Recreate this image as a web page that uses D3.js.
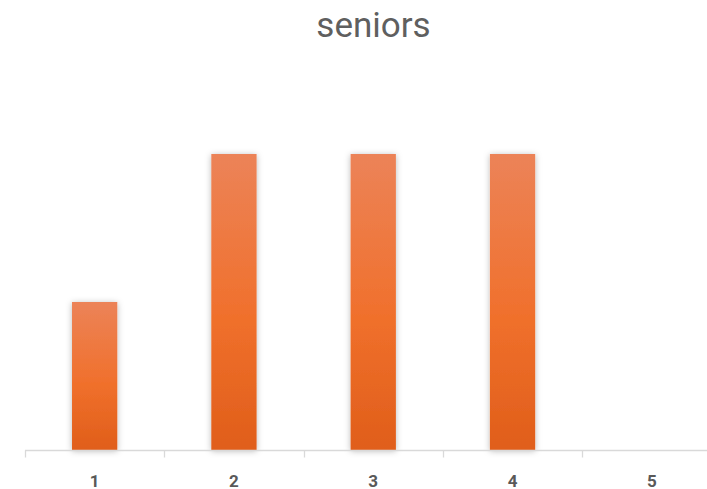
<!DOCTYPE html>
<html><head><meta charset="utf-8">
<script src="https://cdn.jsdelivr.net/npm/d3@7"></script>
<style>body{margin:0;background:#fff}svg{display:block}</style>
</head><body>
<svg id="c" width="707" height="489"></svg>
<script>
const categories = ["1","2","3","4","5"];
const values = [1, 2, 2, 2, 0];
const title = "seniors";

const svg = d3.select("#c");
const x = d3.scaleBand().domain(categories).range([25, 721.5]).paddingInner(0.675).paddingOuter(0.3375);
const y = d3.scaleLinear().domain([0, 2.5]).range([450, 80]);

const defs = svg.append("defs");
const g = defs.append("linearGradient").attr("id","gr").attr("x1",0).attr("y1",0).attr("x2",0).attr("y2",1);
g.append("stop").attr("offset","0%").attr("stop-color","#EC8358");
g.append("stop").attr("offset","55%").attr("stop-color","#F0702C");
g.append("stop").attr("offset","100%").attr("stop-color","#E05E1A");
const f = defs.append("filter").attr("id","sh").attr("x","-30%").attr("y","-10%").attr("width","160%").attr("height","120%");
f.append("feDropShadow").attr("dx",0).attr("dy",1).attr("stdDeviation",3).attr("flood-color","#000").attr("flood-opacity",0.28);

svg.append("text").attr("x",373.5).attr("y",37).attr("text-anchor","middle")
  .attr("font-family","Roboto, sans-serif").attr("font-weight",400).attr("font-size",35).attr("fill","#5f5f5f").text(title);

svg.append("g").selectAll("rect").data(values.map((v,i)=>({c:categories[i],v}))).enter()
  .filter(d=>d.v>0).append("rect")
  .attr("x",d=>x(d.c)).attr("width",x.bandwidth())
  .attr("y",d=>y(d.v)).attr("height",d=>y(0)-y(d.v))
  .attr("fill","url(#gr)").attr("filter","url(#sh)");

const ax = svg.append("g").attr("transform","translate(0,450.5)");
ax.append("line").attr("x1",25).attr("x2",707).attr("stroke","#d9d9d9").attr("stroke-width",1.3);
const edges = d3.range(categories.length+1).map(i=>25+i*(696.5/categories.length));
ax.selectAll("line.t").data(edges).enter().append("line").attr("class","t")
  .attr("x1",d=>Math.round(d)+0.5).attr("x2",d=>Math.round(d)+0.5).attr("y1",0).attr("y2",7)
  .attr("stroke","#d9d9d9").attr("stroke-width",1.3);
ax.selectAll("text").data(categories).enter().append("text")
  .attr("x",d=>x(d)+x.bandwidth()/2).attr("y",36).attr("text-anchor","middle")
  .attr("font-family","Roboto, sans-serif").attr("font-weight","bold").attr("font-size",17).attr("fill","#595959").text(d=>d);
</script>
</body></html>
